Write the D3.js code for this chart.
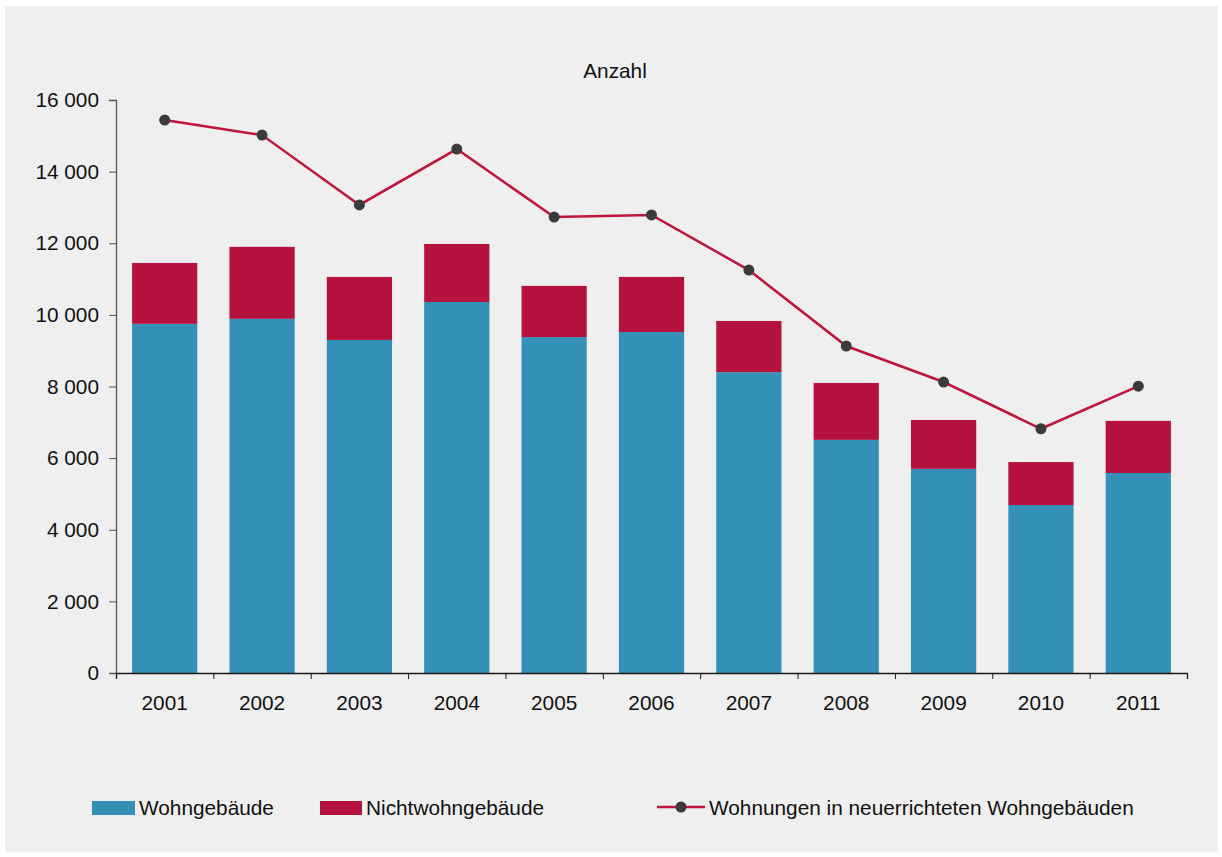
<!DOCTYPE html>
<html lang="de">
<head>
<meta charset="UTF-8">
<title>Anzahl</title>
<script src="https://cdn.jsdelivr.net/npm/d3@7"></script>
<style>
    body { margin: 0; background: #ffffff; }
    text { font-family: "Liberation Sans", Arial, sans-serif; font-size: 20.8px; fill: #111111; }
    .yaxis path, .yaxis line { stroke: #555555; }
    .xaxis path, .xaxis line { stroke: #1a1a1a; }
</style>
</head>
<body>
<div id="grafico"></div>
<script>
// Daten
var jahre = ["2001","2002","2003","2004","2005","2006","2007","2008","2009","2010","2011"];
var wohngebaeude = [9750, 9890, 9300, 10360, 9380, 9520, 8400, 6510, 5700, 4690, 5585];
var nichtwohngebaeude = [1700, 2010, 1760, 1620, 1430, 1540, 1430, 1590, 1365, 1200, 1455];
var wohnungen = [15440, 15020, 13070, 14630, 12730, 12790, 11250, 9130, 8125, 6820, 8010];
var yTicks = [0, 2000, 4000, 6000, 8000, 10000, 12000, 14000, 16000];
var legende = ["Wohngebäude", "Nichtwohngebäude", "Wohnungen in neuerrichteten Wohngebäuden"];

var w = 1222, h = 857;
var links = 116, rechts = 1187, oben = 100, unten = 673;
var blau = "#3590b8", rot = "#b5123d", linie = "#c0143c", punkt = "#3b3b3b";

var svg = d3.select("#grafico").append("svg")
    .attr("width", w)
    .attr("height", h);

svg.append("rect")
    .attr("x", 5).attr("y", 6)
    .attr("width", 1213).attr("height", 846)
    .attr("fill", "#eeefee");

var xScale = d3.scaleBand()
    .domain(jahre)
    .range([links, rechts])
    .paddingInner(0.33)
    .paddingOuter(0.165);

var xTicks = d3.scaleLinear().domain([0, jahre.length]).range([links, rechts]);

var yScale = d3.scaleLinear()
    .domain([0, 16000])
    .range([unten, oben]);

// Balken
var daten = jahre.map(function(j, i){
    return { jahr: j, wohn: wohngebaeude[i], nicht: nichtwohngebaeude[i], wohnungen: wohnungen[i] };
});

svg.selectAll(".wohn")
    .data(daten)
    .enter()
    .append("rect")
    .attr("x", function(d){ return xScale(d.jahr); })
    .attr("y", function(d){ return yScale(d.wohn); })
    .attr("width", xScale.bandwidth())
    .attr("height", function(d){ return yScale(0) - yScale(d.wohn); })
    .attr("fill", blau);

svg.selectAll(".nicht")
    .data(daten)
    .enter()
    .append("rect")
    .attr("x", function(d){ return xScale(d.jahr); })
    .attr("y", function(d){ return yScale(d.wohn + d.nicht); })
    .attr("width", xScale.bandwidth())
    .attr("height", function(d){ return yScale(d.wohn) - yScale(d.wohn + d.nicht); })
    .attr("fill", rot);

// Achsen
var yAxis = svg.append("g")
    .attr("class", "yaxis")
    .attr("transform", "translate(" + links + ",0)")
    .call(d3.axisLeft(yScale)
        .tickValues(yTicks)
        .tickSize(7)
        .tickPadding(10)
        .tickFormat(function(d){ return d3.format(",")(d).replace(",", " "); }));
yAxis.selectAll("text").style("font-size", "20.8px").style("font-family", "Liberation Sans, Arial, sans-serif").attr("fill", "#111111");
yAxis.select(".domain").attr("stroke-width", 1.3);

var xAxis = svg.append("g")
    .attr("class", "xaxis")
    .attr("transform", "translate(0," + unten + ")")
    .call(d3.axisBottom(xTicks).ticks(jahre.length).tickSize(6).tickFormat(""));
xAxis.select(".domain").attr("stroke-width", 1.3);

svg.selectAll(".jahr")
    .data(jahre)
    .enter()
    .append("text")
    .attr("x", function(d){ return xScale(d) + xScale.bandwidth() / 2; })
    .attr("y", 710)
    .attr("text-anchor", "middle")
    .text(function(d){ return d; });

svg.append("text")
    .attr("x", 615)
    .attr("y", 78)
    .attr("text-anchor", "middle")
    .text("Anzahl");

// Linie
var lineGen = d3.line()
    .x(function(d){ return xScale(d.jahr) + xScale.bandwidth() / 2; })
    .y(function(d){ return yScale(d.wohnungen); });

svg.append("path")
    .datum(daten)
    .attr("d", lineGen)
    .attr("fill", "none")
    .attr("stroke", linie)
    .attr("stroke-width", 2.5);

svg.selectAll(".punkt")
    .data(daten)
    .enter()
    .append("circle")
    .attr("cx", function(d){ return xScale(d.jahr) + xScale.bandwidth() / 2; })
    .attr("cy", function(d){ return yScale(d.wohnungen); })
    .attr("r", 5.5)
    .attr("fill", punkt);

// Legende
var lg = svg.append("g");
lg.append("rect").attr("x", 92).attr("y", 801).attr("width", 43).attr("height", 14).attr("fill", blau);
lg.append("text").attr("x", 139).attr("y", 815).text(legende[0]);
lg.append("rect").attr("x", 320).attr("y", 801).attr("width", 42).attr("height", 14).attr("fill", rot);
lg.append("text").attr("x", 366).attr("y", 815).text(legende[1]);
lg.append("line").attr("x1", 657).attr("x2", 705).attr("y1", 807).attr("y2", 807)
    .attr("stroke", linie).attr("stroke-width", 2.5);
lg.append("circle").attr("cx", 681).attr("cy", 807).attr("r", 5.5).attr("fill", punkt);
lg.append("text").attr("x", 709).attr("y", 815).text(legende[2]);
</script>
</body>
</html>
